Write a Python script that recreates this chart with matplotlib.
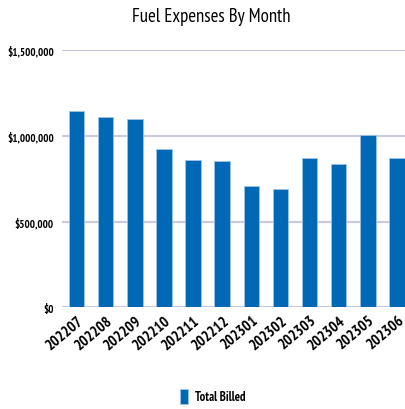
import matplotlib
matplotlib.use("Agg")
import matplotlib.pyplot as plt
from matplotlib.ticker import FuncFormatter

months = ["202207", "202208", "202209", "202210", "202211", "202212",
          "202301", "202302", "202303", "202304", "202305", "202306"]
billed = [1147000, 1108000, 1099000, 924000, 859000, 852000,
          706000, 690000, 869000, 836000, 1005000, 869000]

plt.rcParams['font.family'] = ['PT Sans Narrow', 'Liberation Sans', 'DejaVu Sans']

bar_color = '#0068b5'
grid_color = '#cbcbdb'

fig = plt.figure(figsize=(4.06, 4.10), dpi=100)
ax = fig.add_axes([0.1527, 0.248, 0.861, 0.6276])

x = range(len(months))
ax.bar(x, billed, width=0.53, color=bar_color, edgecolor='#9cc3e6', linewidth=0.6,
       zorder=3, label='Total Billed')

ax.set_xlim(-0.5, len(months) - 0.5)
ax.set_ylim(0, 1500000)
ax.set_yticks([0, 500000, 1000000, 1500000])
ax.yaxis.set_major_formatter(FuncFormatter(lambda v, p: '${:,.0f}'.format(v)))
ax.grid(axis='y', color=grid_color, linewidth=1.6, zorder=0)
for s in ax.spines.values():
    s.set_visible(False)
ax.tick_params(axis='both', length=0)
ax.tick_params(axis='y', pad=6)
for lab in ax.get_yticklabels():
    lab.set_fontsize(7.8)
    lab.set_fontweight('bold')

ax.set_xticks(list(x))
ax.set_xticklabels(months, rotation=40, ha='right', rotation_mode='anchor',
                   fontsize=11, fontweight='bold')
ax.tick_params(axis='x', pad=4)

fig.text(0.52, 0.958, 'Fuel Expenses By Month', ha='center', va='center', fontsize=13.5)

fig.legend(loc='center', bbox_to_anchor=(0.525, 0.031), frameon=False,
           prop={'size': 9, 'weight': 'bold'}, handlelength=0.6, handleheight=1.4,
           handletextpad=0.6)

fig.savefig('out.png', dpi=100)
